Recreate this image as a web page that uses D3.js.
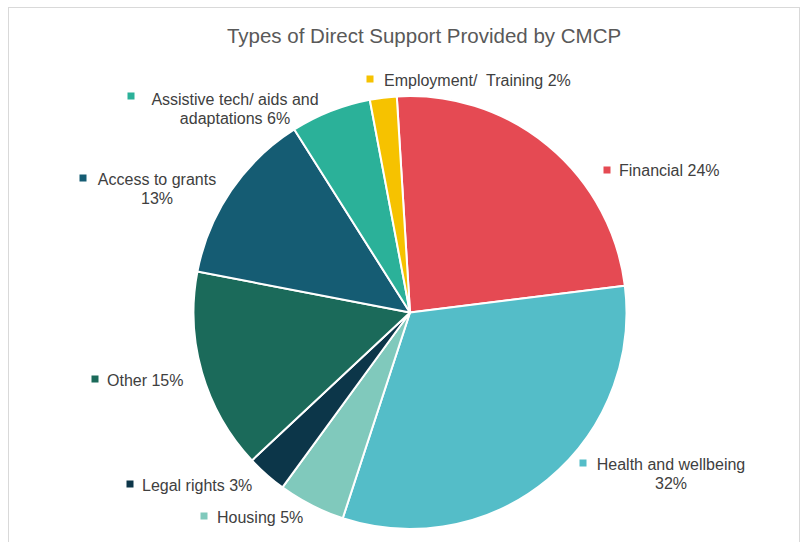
<!DOCTYPE html>
<html>
<head>
<meta charset="utf-8">
<script src="https://cdn.jsdelivr.net/npm/d3@7"></script>
<style>
  html, body { margin: 0; padding: 0; background: #fff; }
  svg { display: block; }
  text { white-space: pre; }
</style>
</head>
<body>
<svg id="chart" width="803" height="542"></svg>
<script>
// Support categories, clockwise from the top of the pie
const categories = ["Financial", "Health and wellbeing", "Housing", "Legal rights",
  "Other", "Access to grants", "Assistive tech/ aids and adaptations", "Employment/  Training"];
const shares = [24, 32, 5, 3, 15, 13, 6, 2];
const sliceColors = ["#E54A53", "#54BDC8", "#80C9BC", "#0C3649", "#1B6A5A", "#155C73", "#2BB199", "#F6C200"];
// Label text lines (last line carries the percentage)
const labelLines = [
  ["Financial 24%"],
  ["Health and wellbeing", "32%"],
  ["Housing 5%"],
  ["Legal rights 3%"],
  ["Other 15%"],
  ["Access to grants", "13%"],
  ["Assistive tech/ aids and", "adaptations 6%"],
  ["Employment/  Training 2%"]
];
const title = "Types of Direct Support Provided by CMCP";

const svg = d3.select("#chart");
const cx = 410, cy = 312.5, R = 216.5;
const rotation = -3.5 * Math.PI / 180;

// chart area frame
svg.append("rect")
  .attr("x", 8.5).attr("y", 7.5)
  .attr("width", 791).attr("height", 560)
  .attr("fill", "none").attr("stroke", "#D9D9D9").attr("stroke-width", 1);

svg.append("text")
  .attr("x", 424).attr("y", 43)
  .attr("text-anchor", "middle")
  .attr("font-family", "Liberation Sans, Arial, sans-serif")
  .attr("font-size", 20.5)
  .attr("fill", "#595959")
  .text(title);

const pie = d3.pie().sort(null).value(d => d)
  .startAngle(rotation).endAngle(rotation + 2 * Math.PI);
const arcs = pie(shares);
const arc = d3.arc().innerRadius(0).outerRadius(R);

const g = svg.append("g").attr("transform", `translate(${cx},${cy})`);
g.selectAll("path")
  .data(arcs)
  .join("path")
  .attr("d", arc)
  .attr("fill", (d, i) => sliceColors[i])
  .attr("stroke", "#fff")
  .attr("stroke-width", 2)
  .attr("stroke-linejoin", "round");

// label anchors: marker position and text block position
const labelPos = [
  { mx: 607, my: 170, tx: 619, ty: 176, anchor: "start" },
  { mx: 583, my: 463, tx: 671, ty: 470, anchor: "middle" },
  { mx: 204, my: 516, tx: 217, ty: 523, anchor: "start" },
  { mx: 130, my: 484, tx: 142, ty: 491, anchor: "start" },
  { mx: 95, my: 379, tx: 107, ty: 386, anchor: "start" },
  { mx: 83, my: 178, tx: 157, ty: 185, anchor: "middle" },
  { mx: 131, my: 96, tx: 235, ty: 105, anchor: "middle" },
  { mx: 370, my: 79, tx: 384, ty: 86, anchor: "start" }
];

const labels = svg.append("g")
  .attr("font-family", "Liberation Sans, Arial, sans-serif")
  .attr("font-size", 16)
  .attr("fill", "#404040");

labelLines.forEach((lines, i) => {
  const p = labelPos[i];
  labels.append("rect")
    .attr("x", p.mx - 3.5).attr("y", p.my - 3.5)
    .attr("width", 7).attr("height", 7)
    .attr("fill", sliceColors[i]);
  const t = labels.append("text").attr("text-anchor", p.anchor);
  lines.forEach((ln, j) => {
    t.append("tspan").attr("x", p.tx).attr("y", p.ty + j * 18.5).text(ln);
  });
});
</script>
</body>
</html>
